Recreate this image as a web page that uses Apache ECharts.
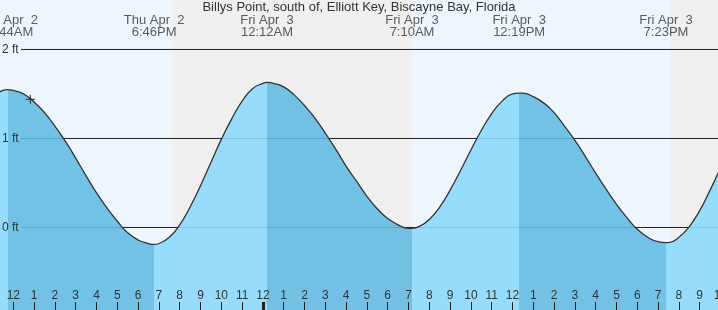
<!DOCTYPE html>
<html><head><meta charset="utf-8">
<script src="https://cdn.jsdelivr.net/npm/echarts@6/dist/echarts.min.js"></script>
<style>html,body{margin:0;padding:0;background:#fff}#c{width:718px;height:310px}</style>
</head><body><div id="c"></div>
<script>
// ---- data (hours counted from Thu Apr 2, 12:00 noon) ----
const chartTitle = 'Billys Point, south of, Elliott Key, Biscayne Bay, Florida';
const hours = [-1, -0.5, -0.27, 0, 0.5, 1, 1.5, 2, 2.5, 3, 3.5, 4, 4.5, 5, 5.5, 6, 6.5, 6.77, 7, 7.5, 8, 8.5, 9, 9.5, 10, 10.5, 11, 11.5, 12, 12.2, 12.5, 13, 13.5, 14, 14.5, 15, 15.5, 16, 16.5, 17, 17.5, 18, 18.5, 19, 19.17, 19.5, 20, 20.5, 21, 21.5, 22, 22.5, 23, 23.5, 24, 24.32, 24.5, 25, 25.5, 26, 26.5, 27, 27.5, 28, 28.5, 29, 29.5, 30, 30.5, 31, 31.38, 31.5, 32, 32.5, 33, 33.5, 34];
const heights = [1.48, 1.54, 1.55, 1.54, 1.50, 1.41, 1.29, 1.14, 0.97, 0.78, 0.58, 0.39, 0.22, 0.07, -0.06, -0.14, -0.18, -0.19, -0.18, -0.11, 0.03, 0.23, 0.47, 0.73, 0.99, 1.22, 1.42, 1.56, 1.62, 1.63, 1.62, 1.58, 1.49, 1.37, 1.23, 1.06, 0.88, 0.69, 0.52, 0.35, 0.21, 0.10, 0.03, -0.01, -0.01, 0.01, 0.09, 0.23, 0.42, 0.64, 0.87, 1.09, 1.28, 1.42, 1.50, 1.51, 1.51, 1.47, 1.40, 1.29, 1.14, 0.98, 0.80, 0.61, 0.43, 0.26, 0.11, -0.02, -0.11, -0.16, -0.17, -0.17, -0.11, 0.01, 0.19, 0.42, 0.67];
const extremeHours = [-0.27, 6.77, 12.2, 19.17, 24.32, 31.38];
const extremeHeights = [1.55, -0.19, 1.63, -0.01, 1.51, -0.17];
const extremeLabels = ['Thu Apr  2\n11:44AM', 'Thu Apr  2\n6:46PM', 'Fri Apr  3\n12:12AM', 'Fri Apr  3\n7:10AM', 'Fri Apr  3\n12:19PM', 'Fri Apr  3\n7:23PM'];
const lightChangeHours = [7.64, 19.18, 31.6]; // sunset, sunrise, sunset
const hourTicks = [0,1,2,3,4,5,6,7,8,9,10,11,12,13,14,15,16,17,18,19,20,21,22,23,24,25,26,27,28,29,30,31,32,33,34];
const midnightTicks = [12];
const ftTicks = [0, 1, 2];
const nowPoint = [0.82, 1.44];

// ---- layout / style ----
const X_MIN = -0.64, X_MAX = 34;
const Y_MIN = -0.927, Y_MAX = 2.556;
const GRID_RIGHT = -2.5; // axis end lies just past the right edge
const FONT = '"Liberation Sans", Arial, sans-serif';
const DAY = '#eef6fd', NIGHT = '#efefef';
const RISE = '#8ad9fc', FALL = '#61bbe3';

const tideData = hours.map((h, i) => [h, heights[i]]);

// day / night bands
const bounds = [X_MIN].concat(lightChangeHours, [X_MAX]);
const bands = [];
for (let i = 0; i < bounds.length - 1; i++) {
  bands.push([{ xAxis: bounds[i], itemStyle: { color: i % 2 === 0 ? DAY : NIGHT } }, { xAxis: bounds[i + 1] }]);
}

// rising / falling pieces
const pieces = [{ lt: extremeHours[0], color: RISE }];
for (let i = 0; i < extremeHours.length - 1; i++) {
  const falling = extremeHeights[i + 1] < extremeHeights[i];
  pieces.push({ gte: extremeHours[i], lt: extremeHours[i + 1], color: falling ? FALL : RISE });
}
const n = extremeHeights.length;
pieces.push({ gte: extremeHours[n - 1], color: extremeHeights[n - 1] < extremeHeights[n - 2] ? RISE : FALL });

const gridWidth = 718 - GRID_RIGHT;
const gridStart = X_MIN + 21 / gridWidth * (X_MAX - X_MIN);
const gridSeries = ftTicks.map((v, i) => ({
  type: 'line', silent: true, z: 2, symbol: 'none', animation: false,
  data: [[gridStart, v], [X_MAX, v]],
  lineStyle: { color: '#222', width: 1 },
  markArea: i === 0 ? { silent: true, z: 1, data: bands } : undefined
}));

const hourLabel = v => { const r = ((Math.round(v) % 12) + 12) % 12; return String(r === 0 ? 12 : r); };

const chart = echarts.init(document.getElementById('c'), null, { renderer: 'canvas' });
chart.setOption({
  animation: false,
  backgroundColor: '#fff',
  title: {
    text: chartTitle, left: 'center', top: 0, padding: 0, z: 10,
    textStyle: { fontFamily: FONT, fontSize: 13, fontWeight: 'normal', color: '#333', lineHeight: 14 }
  },
  grid: { left: 0, right: GRID_RIGHT, top: 0, bottom: 0, containLabel: false, outerBoundsMode: 'none' },
  xAxis: [{
    type: 'value', min: X_MIN, max: X_MAX, position: 'bottom', z: 10,
    axisLine: { show: false, onZero: false }, splitLine: { show: false },
    axisTick: { show: true, inside: true, length: 8, customValues: hourTicks, lineStyle: { color: '#222', width: 1 } },
    axisLabel: {
      show: true, inside: true, margin: 8, customValues: hourTicks, showMaxLabel: true, showMinLabel: true,
      fontFamily: FONT, fontSize: 12, color: '#333', formatter: hourLabel
    }
  }, {
    type: 'value', min: X_MIN, max: X_MAX, position: 'bottom', z: 11,
    axisLine: { show: false, onZero: false }, splitLine: { show: false }, axisLabel: { show: false },
    axisTick: { show: true, inside: true, length: 8, customValues: midnightTicks, lineStyle: { color: '#222', width: 3 } }
  }],
  yAxis: {
    type: 'value', min: Y_MIN, max: Y_MAX, position: 'left', z: 10,
    axisLine: { show: false, onZero: false }, splitLine: { show: false }, axisTick: { show: false, customValues: ftTicks },
    axisLabel: {
      show: true, inside: true, margin: 2, customValues: ftTicks,
      fontFamily: FONT, fontSize: 12, color: '#333', formatter: v => v + ' ft'
    }
  },
  visualMap: {
    type: 'piecewise', show: false, dimension: 0, seriesIndex: ftTicks.length, pieces: pieces
  },
  series: gridSeries.concat([
    {
      type: 'line', name: 'tide', z: 3, data: tideData, smooth: 0.5, symbol: 'none', showSymbol: false,
      lineStyle: { color: '#333', width: 1.3 },
      areaStyle: { origin: 'start', opacity: 0.88 }
    },
    {
      type: 'scatter', z: 5, silent: true, symbolSize: 0,
      data: extremeHours.map((h, i) => ({ value: [h, Y_MAX], label: { formatter: extremeLabels[i] } })),
      label: {
        show: true, position: 'bottom', distance: 14, align: 'center',
        fontFamily: FONT, fontSize: 13, lineHeight: 12, color: '#333'
      }
    },
    {
      type: 'scatter', z: 6, silent: true,
      data: [nowPoint],
      symbol: 'path://M0,5L10,5M5,0L5,10', symbolSize: 9,
      itemStyle: { color: 'rgba(0,0,0,0)', borderColor: '#222', borderWidth: 1.2 }
    }
  ])
});
</script>
</body></html>
